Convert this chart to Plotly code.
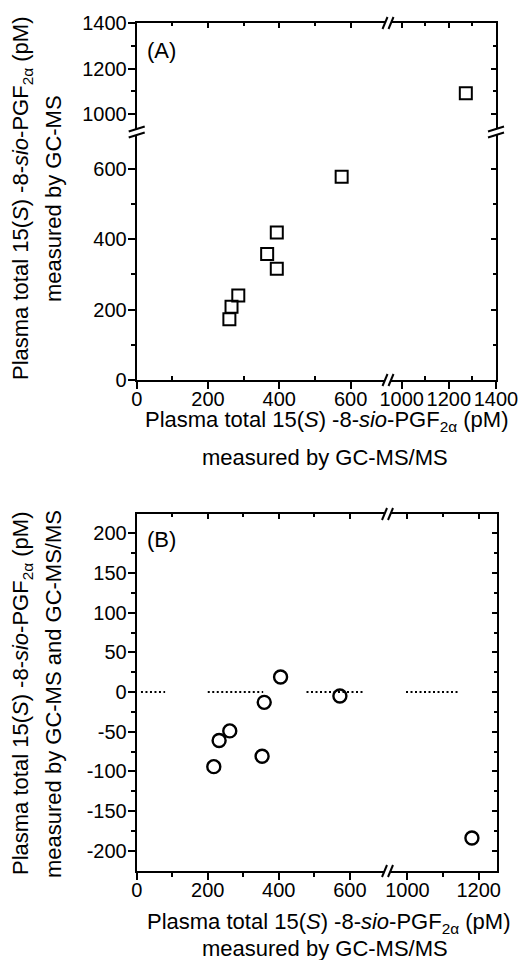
import plotly.graph_objects as go

# ---------------- data ----------------
# Panel A: GC-MS/MS (x) vs GC-MS (y), pM
a_gcmsms = [260, 266, 285, 366, 393, 393, 575, 1272]
a_gcms = [173, 208, 240, 358, 316, 419, 578, 1091]

# Panel B: mean (x) vs difference (y), pM
b_mean = [217, 232, 262, 353, 359, 405, 572, 1181]
b_diff = [-94, -61, -49, -81, -13, 19, -5, -184]

# dotted zero-line segments in panel B (x start / end, pM)
zero_seg_start = [12, 200, 478, 996]
zero_seg_end = [80, 356, 639, 1144]

# tick values
a_x_left_ticks = [0, 200, 400, 600]
a_x_right_ticks = [1000, 1200, 1400]
a_y_low_ticks = [0, 200, 400, 600]
a_y_up_ticks = [1000, 1200, 1400]
b_x_left_ticks = [0, 200, 400, 600]
b_x_right_ticks = [1000, 1200]
b_y_ticks = [-200, -150, -100, -50, 0, 50, 100, 150, 200]

# ---------------- layout helpers ----------------
W, H = 518, 960
FONT = "Liberation Sans, Arial, sans-serif"
TICKFONT = dict(family=FONT, size=20, color="black")
BREAK_X = 800  # values above this sit on the right-hand (broken) x segment


def px(x):
    return x / W


def py(y):
    return 1 - y / H


# panel A geometry (pixels)
A_L, A_XB, A_R = 136.7, 388.0, 496.0
A_B, A_YB, A_T = 380.0, 132.0, 23.0
# panel B geometry (pixels)
B_L, B_XB, B_R = 136.7, 387.5, 496.5
B_B, B_T = 871.0, 514.0

fig = go.Figure()

# dummy (empty) traces so every axis pair exists as a subplot
for xa, ya in [("x2", "y"), ("x", "y2"), ("x3", "y2"), ("x4", "y2"), ("x2", "y3"),
               ("x2", "y4"), ("x7", "y5"), ("x8", "y5"), ("x6", "y6")]:
    fig.add_trace(go.Scatter(x=[], y=[], mode="markers", xaxis=xa, yaxis=ya,
                             hoverinfo="skip", showlegend=False))

# Panel A traces
low_x = [x for x in a_gcmsms if x < BREAK_X]
low_y = [y for x, y in zip(a_gcmsms, a_gcms) if x < BREAK_X]
hi_x = [x for x in a_gcmsms if x >= BREAK_X]
hi_y = [y for x, y in zip(a_gcmsms, a_gcms) if x >= BREAK_X]
sq = dict(symbol="square-open", size=12, color="black", line=dict(width=2, color="black"))
fig.add_trace(go.Scatter(x=low_x, y=low_y, mode="markers", marker=sq, xaxis="x", yaxis="y"))
fig.add_trace(go.Scatter(x=hi_x, y=hi_y, mode="markers", marker=sq, xaxis="x2", yaxis="y2"))

# Panel B zero segments
for s, e in zip(zero_seg_start, zero_seg_end):
    xa = "x5" if s < BREAK_X else "x6"
    fig.add_trace(go.Scatter(x=[s, e], y=[0, 0], mode="lines",
                             line=dict(color="black", width=2.2, dash="2px,2.5px"),
                             xaxis=xa, yaxis="y5"))

ci = dict(symbol="circle-open", size=13, color="black", line=dict(width=2.4, color="black"))
bl_x = [x for x in b_mean if x < BREAK_X]
bl_y = [y for x, y in zip(b_mean, b_diff) if x < BREAK_X]
br_x = [x for x in b_mean if x >= BREAK_X]
br_y = [y for x, y in zip(b_mean, b_diff) if x >= BREAK_X]
fig.add_trace(go.Scatter(x=bl_x, y=bl_y, mode="markers", marker=ci, xaxis="x5", yaxis="y5"))
fig.add_trace(go.Scatter(x=br_x, y=br_y, mode="markers", marker=ci, xaxis="x6", yaxis="y5"))


def axis(domain, rng, tickvals, minorvals, anchor, side, ticks, labels=True,
         overlaying=None, minor_ticks=None, ticklen=7, minorlen=4, standoff=0):
    d = dict(range=rng, tickmode="array", tickvals=tickvals,
             ticktext=[str(v) for v in tickvals], anchor=anchor, side=side,
             ticks=ticks, ticklen=ticklen, tickwidth=2, tickcolor="black",
             showline=True, linewidth=2, linecolor="black", showgrid=False,
             zeroline=False, showticklabels=labels, tickfont=TICKFONT,
             tickangle=0, fixedrange=True, automargin=False,
             ticklabeloverflow="allow", ticklabelstandoff=standoff,
             minor=dict(tickmode="array", tickvals=minorvals, ticks=minor_ticks or ticks,
                        ticklen=minorlen, tickwidth=1.6, tickcolor="black", showgrid=False))
    if overlaying:
        d["overlaying"] = overlaying
    else:
        d["domain"] = domain
    return d


layout = dict(
    width=W, height=H, margin=dict(l=0, r=0, t=0, b=0, pad=0, autoexpand=False),
    paper_bgcolor="white", plot_bgcolor="rgba(0,0,0,0)", showlegend=False,
    hovermode=False,
)

XS, YS = -7, -3  # tick-label standoffs

# ----- Panel A axes -----
layout["xaxis"] = axis([px(A_L), px(A_XB)], [0, 705], a_x_left_ticks, [100, 300, 500],
                       "y", "bottom", "outside", minor_ticks="inside", standoff=XS)
layout["xaxis2"] = axis([px(A_XB), px(A_R)], [942, 1400], a_x_right_ticks, [1100, 1300],
                        "y", "bottom", "outside", minor_ticks="inside", standoff=XS)
layout["xaxis3"] = axis(None, [0, 705], a_x_left_ticks, [100, 300, 500],
                        "y2", "top", "inside", labels=False, overlaying="x", ticklen=5, minorlen=3)
layout["xaxis4"] = axis(None, [942, 1400], a_x_right_ticks, [1100, 1300],
                        "y2", "top", "inside", labels=False, overlaying="x2", ticklen=5, minorlen=3)
layout["yaxis"] = axis([py(A_B), py(A_YB)], [0, 705], a_y_low_ticks, [100, 300, 500],
                       "x", "left", "outside", standoff=YS)
layout["yaxis2"] = axis([py(A_YB), py(A_T)], [921, 1400], a_y_up_ticks, [1100, 1300],
                        "x", "left", "outside", standoff=YS)
layout["yaxis3"] = axis(None, [0, 705], a_y_low_ticks, [100, 300, 500],
                        "x2", "right", "inside", labels=False, overlaying="y", ticklen=5, minorlen=3)
layout["yaxis4"] = axis(None, [921, 1400], a_y_up_ticks, [1100, 1300],
                        "x2", "right", "inside", labels=False, overlaying="y2", ticklen=5, minorlen=3)

# ----- Panel B axes -----
b_minor_y = [v + 25 for v in b_y_ticks] + [-225]
b_minor_y = [v for v in b_minor_y if -225 < v < 224]
layout["xaxis5"] = axis([px(B_L), px(B_XB)], [0, 706], b_x_left_ticks, [100, 300, 500],
                        "y5", "bottom", "outside", standoff=XS)
layout["xaxis6"] = axis([px(B_XB), px(B_R)], [944, 1250], b_x_right_ticks, [1100],
                        "y5", "bottom", "outside", standoff=XS)
layout["xaxis7"] = axis(None, [0, 706], b_x_left_ticks, [100, 300, 500],
                        "y5", "top", "inside", labels=False, overlaying="x5", ticklen=5, minorlen=3)
layout["xaxis8"] = axis(None, [944, 1250], b_x_right_ticks, [1100],
                        "y5", "top", "inside", labels=False, overlaying="x6", ticklen=5, minorlen=3)
layout["yaxis5"] = axis([py(B_B), py(B_T)], [-225.5, 224.3], b_y_ticks, b_minor_y,
                        "x5", "left", "outside", standoff=YS)
layout["yaxis6"] = axis(None, [-225.5, 224.3], b_y_ticks, b_minor_y,
                        "x6", "right", "inside", labels=False, overlaying="y5", ticklen=5, minorlen=3)

fig.update_layout(**layout)

# ----- break marks -----
shapes = []


def hbreak(bx, by):
    shapes.append(dict(type="rect", xref="paper", yref="paper", layer="above",
                       x0=px(bx - 3), x1=px(bx + 3), y0=py(by + 2), y1=py(by - 2),
                       fillcolor="white", line=dict(width=0)))
    for off in (-3, 3):
        shapes.append(dict(type="line", xref="paper", yref="paper", layer="above",
                           x0=px(bx + off - 2.5), y0=py(by + 6), x1=px(bx + off + 2.5), y1=py(by - 6),
                           line=dict(color="black", width=2)))


def vbreak(bx, by):
    shapes.append(dict(type="rect", xref="paper", yref="paper", layer="above",
                       x0=px(bx - 2), x1=px(bx + 2), y0=py(by + 3), y1=py(by - 3),
                       fillcolor="white", line=dict(width=0)))
    for off in (-3, 3):
        shapes.append(dict(type="line", xref="paper", yref="paper", layer="above",
                           x0=px(bx - 8), y0=py(by + off + 2.5), x1=px(bx + 8), y1=py(by + off - 2.5),
                           line=dict(color="black", width=2)))


hbreak(A_XB, A_T)
hbreak(A_XB, A_B)
vbreak(A_L, A_YB)
vbreak(A_R, A_YB)
hbreak(B_XB, B_T)
hbreak(B_XB, B_B)
fig.update_layout(shapes=shapes)

# ----- titles & panel labels -----
TF = dict(family=FONT, size=22, color="black")
line1 = "Plasma total 15(<i>S</i>) -8-<i>sio</i>-PGF<sub>2α</sub> (pM)"
ann = []


def text(x, y, s, angle=0, size=22):
    ann.append(dict(x=px(x), y=py(y), xref="paper", yref="paper", text=s, showarrow=False,
                    xanchor="center", yanchor="middle", textangle=angle,
                    font=dict(family=FONT, size=size, color="black")))


text(326, 421, line1)
text(325, 457, "measured by GC-MS/MS")
text(22, 199, line1, angle=-90)
text(53, 199, "measured by GC-MS", angle=-90)
text(328, 923, line1)
text(325, 948, "measured by GC-MS/MS")
text(22, 694, line1, angle=-90)
text(53, 694, "measured by GC-MS and GC-MS/MS", angle=-90)
ann.append(dict(x=px(145), y=py(51), xref="paper", yref="paper", text="(A)", showarrow=False,
                xanchor="left", yanchor="middle", font=TF))
ann.append(dict(x=px(145), y=py(539), xref="paper", yref="paper", text="(B)", showarrow=False,
                xanchor="left", yanchor="middle", font=TF))
fig.update_layout(annotations=ann)

fig.write_html("out.html", config={"displayModeBar": False},
               post_script="document.body.style.margin='0';document.body.style.overflow='hidden';")
